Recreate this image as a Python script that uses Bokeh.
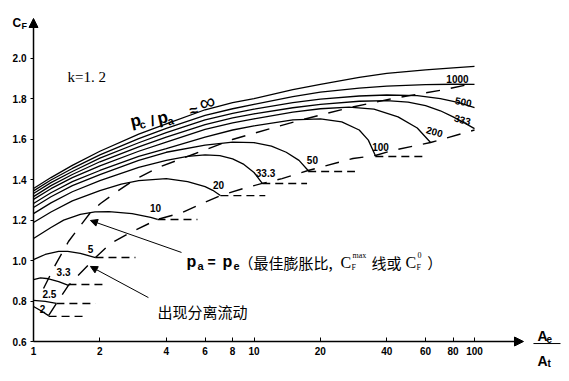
from bokeh.plotting import figure
from bokeh.models import Range1d, FixedTicker, Label, Arrow, NormalHead, NumeralTickFormatter
from bokeh.embed import file_html
from bokeh.resources import INLINE

# ---------------- data ----------------
x_ticks = [1, 2, 4, 6, 8, 10, 20, 40, 60, 80, 100]
y_ticks = [0.6, 0.8, 1.0, 1.2, 1.4, 1.6, 1.8, 2.0]

x_inf = [1, 1.2, 1.5, 2, 3, 4, 6, 8, 10, 15, 20, 30, 40, 60, 80, 100]
cf_inf = [1.356, 1.41, 1.47, 1.54, 1.625, 1.675, 1.745, 1.78, 1.80, 1.845, 1.87, 1.905, 1.925, 1.942, 1.952, 1.959]

x_1000 = [1, 1.2, 1.5, 2, 3, 4, 6, 8, 10, 15, 20, 30, 40, 60, 80, 100]
cf_1000 = [1.344, 1.398, 1.455, 1.522, 1.602, 1.653, 1.717, 1.75, 1.772, 1.81, 1.832, 1.852, 1.862, 1.869, 1.871, 1.870]

x_500 = [1, 1.2, 1.5, 2, 3, 4, 6, 8, 10, 15, 20, 30, 40, 55, 70, 85, 100]
cf_500 = [1.331, 1.385, 1.44, 1.506, 1.582, 1.632, 1.695, 1.727, 1.748, 1.78, 1.798, 1.813, 1.818, 1.815, 1.80, 1.78, 1.756]

x_333 = [1, 1.2, 1.5, 2, 3, 4, 6, 8, 10, 15, 20, 30, 40, 50, 60, 70, 80, 90, 100]
cf_333 = [1.316, 1.37, 1.425, 1.488, 1.562, 1.61, 1.672, 1.705, 1.725, 1.755, 1.772, 1.787, 1.79, 1.783, 1.765, 1.74, 1.71, 1.68, 1.652]

x_200 = [1, 1.2, 1.5, 2, 3, 4, 6, 8, 10, 15, 20, 27, 35, 45, 55, 63.2]
cf_200 = [1.302, 1.355, 1.41, 1.468, 1.54, 1.585, 1.648, 1.68, 1.70, 1.733, 1.75, 1.758, 1.748, 1.71, 1.655, 1.583]

x_100 = [1, 1.2, 1.5, 2, 3, 4, 6, 8, 10, 15, 20, 25, 30, 33, 35.5]
cf_100 = [1.282, 1.335, 1.39, 1.445, 1.515, 1.553, 1.61, 1.645, 1.665, 1.695, 1.70, 1.685, 1.645, 1.595, 1.519]

x_50 = [1, 1.2, 1.5, 2, 3, 4, 6, 8, 10, 12, 14, 16, 17.6]
cf_50 = [1.262, 1.315, 1.37, 1.425, 1.495, 1.535, 1.57, 1.585, 1.583, 1.565, 1.535, 1.495, 1.445]

x_33_3 = [1, 1.2, 1.5, 2, 3, 4, 5, 6, 7, 8, 9, 10, 10.9]
cf_33_3 = [1.232, 1.285, 1.34, 1.395, 1.46, 1.495, 1.515, 1.522, 1.518, 1.502, 1.475, 1.435, 1.381]

x_20 = [1, 1.2, 1.5, 2, 2.5, 3, 4, 5, 6, 6.5, 7.04]
cf_20 = [1.188, 1.24, 1.295, 1.345, 1.378, 1.395, 1.405, 1.39, 1.365, 1.347, 1.321]

x_10 = [1, 1.2, 1.37, 1.63, 1.9, 2.2, 2.8, 3.4, 3.65]
cf_10 = [1.109, 1.163, 1.20, 1.228, 1.24, 1.242, 1.232, 1.213, 1.203]

x_5 = [1, 1.13, 1.3, 1.43, 1.63, 1.91]
cf_5 = [1.005, 1.03, 1.045, 1.045, 1.035, 1.015]

x_3_3 = [1, 1.076, 1.17, 1.3, 1.44]
cf_3_3 = [0.906, 0.914, 0.91, 0.896, 0.877]

x_2_5 = [1, 1.13, 1.27]
cf_2_5 = [0.803, 0.798, 0.788]

x_2 = [1, 1.076, 1.17]
cf_2 = [0.773, 0.753, 0.728]

# optimum expansion line (pa = pe)
opt_x = [1.11, 1.258, 1.441, 1.633, 1.812, 2.013, 2.355, 2.753, 3.059, 3.685, 5.426, 7.984, 11.84, 17.4, 27.24, 40.65, 53.8, 73.5, 98.7]
opt_cf = [0.862, 0.98, 1.094, 1.173, 1.237, 1.282, 1.336, 1.386, 1.415, 1.46, 1.529, 1.598, 1.652, 1.702, 1.756, 1.796, 1.82, 1.845, 1.875]

# separation line
sep_x = [1.17, 1.27, 1.44, 1.91, 2.23, 2.75, 3.65, 4.73, 5.54, 7.04, 8.95, 10.9, 13.4, 17.6, 28.1, 35.5, 42.4, 63.2, 100]
sep_cf = [0.728, 0.788, 0.877, 1.015, 1.084, 1.139, 1.203, 1.237, 1.272, 1.321, 1.356, 1.381, 1.405, 1.445, 1.504, 1.519, 1.544, 1.583, 1.645]

# horizontal dashed continuations after separation
ext_x0 = [1.17, 1.27, 1.44, 1.91, 3.65, 7.04, 10.9, 17.6, 35.5]
ext_x1 = [1.72, 1.91, 2.12, 2.90, 5.54, 11.25, 17.4, 28.7, 58.4]
ext_cf = [0.724, 0.788, 0.882, 1.015, 1.203, 1.321, 1.381, 1.440, 1.514]

curve_names = ["∞", "1000", "500", "333", "200", "100", "50", "33.3", "20", "10", "5", "3.3", "2.5", "2"]
curves_x = [x_inf, x_1000, x_500, x_333, x_200, x_100, x_50, x_33_3, x_20, x_10, x_5, x_3_3, x_2_5, x_2]
curves_cf = [cf_inf, cf_1000, cf_500, cf_333, cf_200, cf_100, cf_50, cf_33_3, cf_20, cf_10, cf_5, cf_3_3, cf_2_5, cf_2]

# ---------------- figure ----------------
W, H = 567, 379
p = figure(width=W, height=H, x_axis_type="log",
           x_range=Range1d(0.7084, 264.1), y_range=Range1d(0.4123, 2.2848),
           output_backend="svg", toolbar_location=None,
           min_border_left=0, min_border_right=0, min_border_top=0, min_border_bottom=0)
p.outline_line_color = None
p.grid.visible = False
p.background_fill_color = "white"
p.border_fill_color = "white"

p.xaxis.fixed_location = 0.6
p.yaxis.fixed_location = 1
p.xaxis.ticker = FixedTicker(ticks=x_ticks, minor_ticks=[])
p.xaxis.formatter = NumeralTickFormatter(format="0")
p.yaxis.ticker = FixedTicker(ticks=y_ticks, minor_ticks=[])
p.yaxis.formatter = NumeralTickFormatter(format="0.0")
for ax in (p.xaxis, p.yaxis):
    ax.axis_line_color = None
    ax.major_tick_line_color = "black"
    ax.major_tick_line_width = 1
    ax.minor_tick_line_color = None
    ax.major_label_text_font = "Liberation Sans"
    ax.major_label_text_font_style = "bold"
    ax.major_label_text_font_size = "10px"
    ax.major_label_text_color = "black"
p.xaxis.major_tick_in = 4
p.xaxis.major_tick_out = 0
p.xaxis.major_label_standoff = 5
p.yaxis.major_tick_in = 0
p.yaxis.major_tick_out = 3
p.yaxis.major_label_standoff = 4

# curves
for cx, cy in zip(curves_x, curves_cf):
    p.line(cx, cy, line_color="black", line_width=1.3)

p.line(opt_x, opt_cf, line_color="black", line_width=1.4, line_dash="14 11")
p.line(sep_x, sep_cf, line_color="black", line_width=1.4, line_dash="14 11")
p.segment(x0=ext_x0, y0=ext_cf, x1=ext_x1, y1=ext_cf, line_color="black", line_width=1.4, line_dash="8 5")

# axes arrows
p.add_layout(Arrow(end=NormalHead(size=9, fill_color="black", line_color="black"),
                   x_start=1, y_start=0.6, x_end=1, y_end=2.196, line_width=1.5, line_color="black"))
p.add_layout(Arrow(end=NormalHead(size=9, fill_color="black", line_color="black"),
                   x_start=1, y_start=0.6, x_end=166.8, y_end=0.6, line_width=1.5, line_color="black"))


def lab(x, y, text, size, font="Liberation Sans", style="bold", align="left",
        baseline="alphabetic", angle=0, xo=0, yo=0):
    p.add_layout(Label(x=x, y=y, text=text, text_font=font, text_font_size=f"{size}px",
                       text_font_style=style, text_align=align, text_baseline=baseline,
                       angle=angle, angle_units="deg", x_offset=xo, y_offset=yo,
                       text_color="black"))


# axis titles
lab(0.803, 2.176, "C", 12)
lab(0.882, 2.161, "F", 9)
lab(193.1, 0.625, "A", 14)
lab(212.1, 0.612, "e", 10)
lab(193.1, 0.505, "A", 14)
lab(214.3, 0.490, "t", 10)
p.add_layout(Arrow(end=None, x_start=185.1, y_start=0.590, x_end=245.5, y_end=0.590,
                   line_width=1, line_color="black"))

lab(1.426, 1.909, "k=1. 2", 15, font="Liberation Serif", style="normal")

# pc / pa ≈ ∞ along the curves
ax0, ay0, rot = 2.754, 1.6845, 13
lab(ax0, ay0, "p", 17, angle=rot)
lab(ax0, ay0, "c", 11, angle=rot, xo=9, yo=-3)
lab(ax0, ay0, "/", 15, angle=rot, xo=20, yo=1)
lab(ax0, ay0, "p", 17, angle=rot, xo=27, yo=3)
lab(ax0, ay0, "a", 11, angle=rot, xo=37, yo=0.5)
lab(ax0, ay0, "≈", 15, angle=rot, xo=59, yo=11)
lab(ax0, ay0, "∞", 22, style="normal", angle=rot, xo=69, yo=18)

# curve labels
num_pos = [("1000", 83.7, 1.899, 0), ("500", 89.1, 1.786, -10), ("333", 88.2, 1.697, -14),
           ("200", 65.9, 1.638, -16), ("100", 37.5, 1.563, 0), ("50", 18.4, 1.499, 0),
           ("33.3", 11.28, 1.435, 0), ("20", 6.90, 1.371, 0), ("10", 3.575, 1.262, 0),
           ("5", 1.812, 1.059, 0), ("3.3", 1.368, 0.941, 0), ("2.5", 1.18, 0.837, 0),
           ("2", 1.099, 0.763, 0)]
for t, xx, yy, an in num_pos:
    lab(xx, yy, t, 10, align="center", baseline="middle", angle=an)

# pa = pe annotation
lab(4.94, 0.995, "p", 16)
lab(5.54, 0.9755, "a", 11)
lab(6.15, 0.995, "=", 14)
lab(7.20, 0.995, "p", 16)
lab(8.07, 0.9755, "e", 11)
lab(8.51, 0.990, "（最佳膨胀比,", 15, font="Noto Sans CJK SC", style="normal")
lab(24.68, 0.990, "C", 16, font="Liberation Serif", style="normal")
lab(27.68, 0.9656, "F", 8, font="Liberation Serif", style="normal")
lab(27.97, 1.025, "max", 8, font="Liberation Serif", style="normal")
lab(34.12, 0.990, "线或", 15, font="Noto Sans CJK SC", style="normal")
lab(48.6, 0.990, "C", 16, font="Liberation Serif", style="normal")
lab(54.6, 0.9656, "F", 8, font="Liberation Serif", style="normal")
lab(55.2, 1.025, "0", 8, font="Liberation Serif", style="normal")
lab(61.0, 0.990, "）", 15, font="Noto Sans CJK SC", style="normal")

lab(3.65, 0.748, "出现分离流动", 15, font="Noto Sans CJK SC", style="normal")

# leader arrows
p.add_layout(Arrow(end=NormalHead(size=7, fill_color="black", line_color="black"),
                   x_start=4.69, y_start=1.040, x_end=1.812, y_end=1.198, line_width=1, line_color="black"))
p.add_layout(Arrow(end=NormalHead(size=7, fill_color="black", line_color="black"),
                   x_start=3.32, y_start=0.817, x_end=1.812, y_end=0.971, line_width=1, line_color="black"))

open("out.html", "w").write(file_html(p, INLINE))
